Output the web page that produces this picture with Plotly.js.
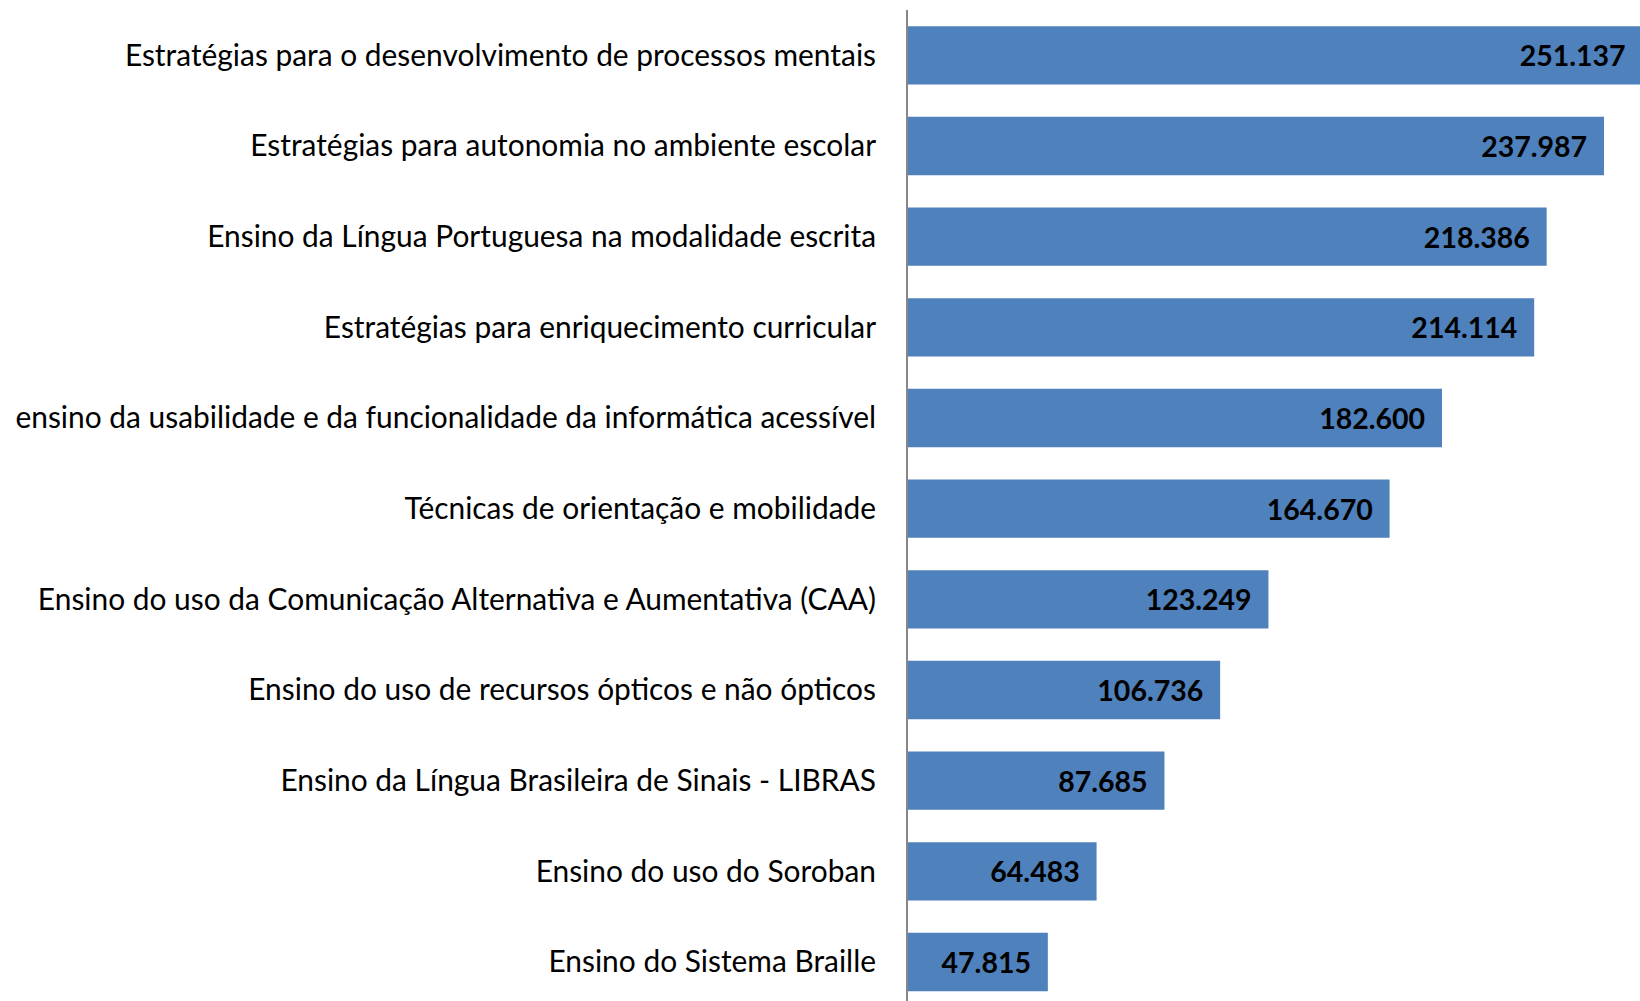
<!DOCTYPE html>
<html>
<head>
<meta charset="utf-8">
<script src="https://cdn.plot.ly/plotly-3.0.1.min.js"></script>
<style>
html, body { margin: 0; padding: 0; background: #ffffff; overflow: hidden; width: 1640px; height: 1001px; }
#chart { width: 1640px; height: 1001px; }
</style>
</head>
<body>
<div id="chart"></div>
<script>
// Categories, top to bottom as in the reference
const categories = [
  "Estratégias para o desenvolvimento de processos mentais",
  "Estratégias para autonomia no ambiente escolar",
  "Ensino da Língua Portuguesa na modalidade escrita",
  "Estratégias para enriquecimento curricular",
  "ensino da usabilidade e da funcionalidade da informática acessível",
  "Técnicas de orientação e mobilidade",
  "Ensino do uso da Comunicação Alternativa e Aumentativa (CAA)",
  "Ensino do uso de recursos ópticos e não ópticos",
  "Ensino da Língua Brasileira de Sinais - LIBRAS",
  "Ensino do uso do Soroban",
  "Ensino do Sistema Braille"
];
const values = [251137, 237987, 218386, 214114, 182600, 164670, 123249, 106736, 87685, 64483, 47815];

const NB = "\u00a0";

const trace = {
  type: "bar",
  orientation: "h",
  y: categories,
  x: values,
  marker: { color: "#4F81BD", line: { width: 0 } },
  texttemplate: "%{x:,}" + NB + NB,
  textposition: "inside",
  insidetextanchor: "end",
  textangle: 0,
  constraintext: "none",
  insidetextfont: { family: "Lato, sans-serif", size: 28.5, color: "#000000", weight: 700 },
  hoverinfo: "none"
};

const layout = {
  width: 1640,
  height: 1001,
  margin: { l: 908, r: 0, t: 10.4, b: 0, pad: 0 },
  paper_bgcolor: "#ffffff",
  plot_bgcolor: "#ffffff",
  separators: ",.",
  bargap: 0.357,
  showlegend: false,
  xaxis: {
    range: [0, 250300],
    visible: false,
    showgrid: false,
    zeroline: false,
    fixedrange: true
  },
  yaxis: {
    type: "category",
    range: [10.43, -0.5],
    showline: true,
    linecolor: "#868686",
    linewidth: 2,
    ticks: "",
    showgrid: false,
    zeroline: false,
    automargin: false,
    ticklabelstandoff: 24,
    tickfont: { family: "Lato, sans-serif", size: 29.9, color: "#000000" },
    fixedrange: true
  }
};

Plotly.newPlot("chart", [trace], layout, { displayModeBar: false, staticPlot: true });
</script>
</body>
</html>
